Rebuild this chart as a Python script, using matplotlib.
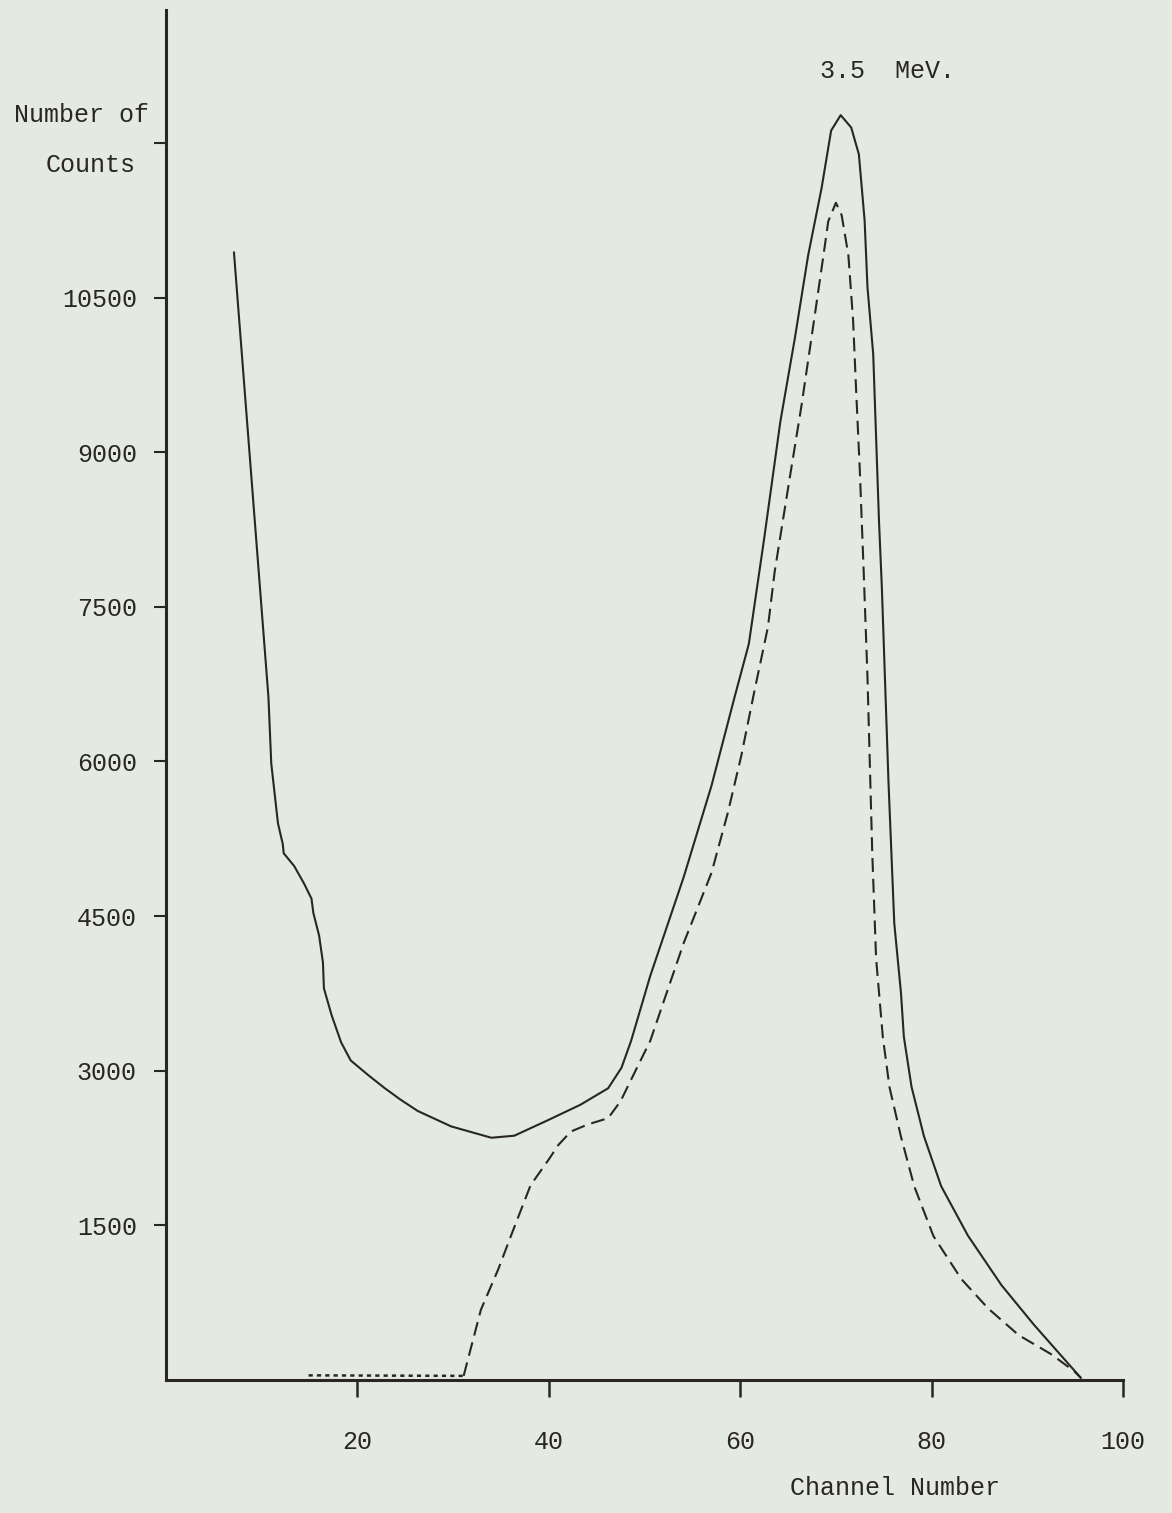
import matplotlib
matplotlib.use('Agg')
import matplotlib.pyplot as plt

# ---- data ----
total_channel = [7.1, 10.7, 11.0, 11.7, 12.2, 12.3, 13.4, 14.4, 15.2, 15.4, 16.0, 16.4,
                 16.5, 17.3, 18.3, 19.3, 21.1, 22.8, 24.5, 26.3, 29.8, 34.0, 36.4,
                 39.9, 43.3, 46.2, 47.6, 48.6, 50.6, 54.1, 57.0, 59.4, 60.9, 62.5,
                 64.2, 65.7, 67.1, 68.5, 69.5, 70.5, 71.6, 72.4, 73.0, 73.3, 73.9,
                 74.2, 74.5, 74.8, 75.5, 76.1, 76.8, 77.1, 77.9, 79.2, 81.0, 83.8,
                 87.3, 90.7, 95.6]
total_counts = [10940, 6630, 5980, 5400, 5200, 5110, 4985, 4820, 4670, 4530, 4310, 4050,
                3800, 3540, 3275, 3100, 2960, 2835, 2720, 2610, 2460, 2350, 2370,
                2520, 2670, 2830, 3030, 3290, 3920, 4880, 5765, 6620, 7140, 8160,
                9300, 10100, 10910, 11560, 12120, 12270, 12150, 11890, 11250, 10600, 9950,
                9145, 8340, 7690, 5790, 4430, 3755, 3330, 2845, 2365, 1880, 1400,
                920, 535, 20]

floor_channel = [14.9, 31.1]
floor_counts = [45, 40]

peak_channel = [31.1, 32.9, 34.7, 36.3, 38.1, 40.0, 41.0, 42.3, 44.1, 46.2, 47.5, 48.9,
                50.6, 54.1, 57.0, 58.7, 60.1, 61.5, 62.9, 63.6, 65.0, 66.4, 67.7,
                68.7, 69.2, 70.0, 70.6, 71.3, 71.8, 72.1, 72.5, 72.9, 73.3, 73.8,
                74.2, 74.9, 75.6, 76.8, 78.2, 80.2, 83.1, 85.9, 89.1, 92.5, 94.9, 95.6]
peak_counts = [40, 680, 1070, 1460, 1890, 2140, 2280, 2410, 2480, 2540, 2705, 2970,
               3290, 4240, 4920, 5500, 6050, 6690, 7305, 7840, 8650, 9450, 10270,
               10910, 11240, 11420, 11300, 10915, 10275, 9630, 8820, 7850, 6815, 5110,
               4090, 3330, 2840, 2360, 1875, 1395, 980, 695, 435, 250, 85, 20]

y_ticks = [1500, 3000, 4500, 6000, 7500, 9000, 10500, 12000]
y_tick_labels = ['1500', '3000', '4500', '6000', '7500', '9000', '10500', '']
x_ticks = [20, 40, 60, 80, 100]
x_tick_labels = ['20', '40', '60', '80', '100']

# ---- style ----
bg = '#e4e9e1'
ink = '#2a2623'
plt.rcParams['font.family'] = ['Liberation Mono', 'DejaVu Sans Mono']
plt.rcParams['lines.scale_dashes'] = False

W, H = 1172, 1513
fig = plt.figure(figsize=(W / 100, H / 100), dpi=100)
fig.patch.set_facecolor(bg)

left_px, right_px, bottom_px, top_px = 166, 1123, 1380, 10
ax = fig.add_axes([left_px / W, 1 - bottom_px / H,
                   (right_px - left_px) / W, (bottom_px - top_px) / H])
ax.set_facecolor(bg)
ax.set_xlim(0, 100)
ax.set_ylim(0, 13290)

ax.plot(total_channel, total_counts, color=ink, lw=1.5,
        solid_joinstyle='round', solid_capstyle='round')
ax.plot(peak_channel, peak_counts, color=ink, lw=1.5, dashes=(10, 5))
ax.plot(floor_channel, floor_counts, color=ink, lw=1.8, dashes=(3, 3))

for s in ['top', 'right']:
    ax.spines[s].set_visible(False)
for s in ['left', 'bottom']:
    ax.spines[s].set_color(ink)
    ax.spines[s].set_linewidth(2.2)

ax.set_yticks(y_ticks)
ax.set_yticklabels(y_tick_labels)
ax.set_xticks(x_ticks)
ax.set_xticklabels(x_tick_labels)
ax.tick_params(axis='y', direction='out', length=9, width=1.5, pad=12,
               colors=ink, labelsize=18)
ax.tick_params(axis='x', direction='out', length=12, width=1.8, pad=24,
               colors=ink, labelsize=18)

fig.text(82 / W, 1 - 115 / H, 'Number of', ha='center', va='center',
         fontsize=18, color=ink)
fig.text(91 / W, 1 - 165 / H, 'Counts', ha='center', va='center',
         fontsize=18, color=ink)
fig.text(820 / W, 1 - 71 / H, '3.5  MeV.', ha='left', va='center',
         fontsize=18, color=ink)
fig.text(895 / W, 1 - 1488 / H, 'Channel Number', ha='center', va='center',
         fontsize=18, color=ink)

fig.savefig('out.png', dpi=100, facecolor=bg)
